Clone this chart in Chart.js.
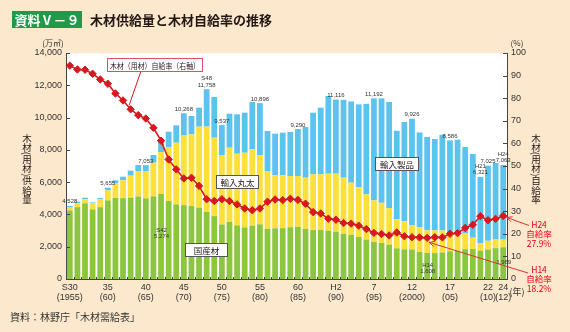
<!DOCTYPE html>
<html>
<head>
<meta charset="utf-8">
<script src="https://cdn.jsdelivr.net/npm/chart.js@4"></script>
<style>
  html, body { margin: 0; padding: 0; background: #fce8cc; }
  canvas { display: block; }
</style>
</head>
<body>
<canvas id="woodChart" width="570" height="332"></canvas>
<script>
// 年（S30=1955 〜 H24=2012）
const years = [1955, 1956, 1957, 1958, 1959, 1960, 1961, 1962, 1963, 1964,
  1965, 1966, 1967, 1968, 1969, 1970, 1971, 1972, 1973, 1974,
  1975, 1976, 1977, 1978, 1979, 1980, 1981, 1982, 1983, 1984,
  1985, 1986, 1987, 1988, 1989, 1990, 1991, 1992, 1993, 1994,
  1995, 1996, 1997, 1998, 1999, 2000, 2001, 2002, 2003, 2004,
  2005, 2006, 2007, 2008, 2009, 2010, 2011, 2012];

// 万m3
const domestic = [4250, 4450, 4690, 4312, 4450, 4870, 5016, 5010, 5038, 5115,
  5000, 5120, 5274, 4830, 4620, 4575, 4520, 4420, 4160, 3895,
  3375, 3540, 3320, 3195, 3310, 3390, 3105, 3140, 3150, 3205,
  3235, 3105, 3030, 3045, 3000, 2930, 2800, 2740, 2600, 2440,
  2300, 2230, 2130, 1900, 1840, 1830, 1680, 1608, 1605, 1645,
  1717, 1752, 1848, 1859, 1757, 1827, 1911, 1969];
const importedLogs = [208, 236, 243, 374, 483, 621, 909, 1100, 1362, 1575,
  1690, 2086, 2592, 3345, 3824, 4344, 4440, 5015, 5280, 4859,
  4305, 4594, 4442, 4629, 4721, 4269, 3584, 3301, 3270, 3174,
  3144, 3171, 3452, 3437, 3523, 3593, 3476, 3226, 3097, 2803,
  2570, 2490, 2260, 1800, 1740, 1510, 1510, 1402, 1405, 1365,
  1183, 1148, 1002, 701, 473, 543, 529, 471];
const importedProducts = [70, 103, 103, 61, 83, 164, 185, 228, 309, 370,
  363, 475, 694, 950, 1074, 1349, 1136, 1177, 2318, 2519,
  1857, 2106, 2437, 2478, 2932, 3237, 2478, 2560, 2643, 2726,
  2911, 3138, 3820, 4130, 4812, 4593, 4824, 5034, 5122, 5607,
  6322, 6469, 6575, 5487, 6146, 6586, 5892, 5790, 5663, 5929,
  5686, 5730, 5327, 5184, 4091, 4655, 4746, 4623];
// 自給率 %
const selfRate = [94.4, 92.7, 92.6, 90.8, 88.3, 86.4, 82.1, 79.0, 75.1, 72.5,
  71.0, 66.9, 61.2, 52.9, 48.5, 44.5, 44.8, 41.2, 35.3, 34.5,
  35.3, 34.5, 33.0, 31.2, 30.4, 31.2, 34.2, 35.2, 34.9, 35.5,
  35.0, 33.3, 29.6, 29.0, 26.7, 26.2, 24.8, 24.5, 23.6, 22.1,
  20.4, 19.9, 19.3, 20.6, 18.9, 18.5, 18.4, 18.2, 18.5, 18.4,
  20.0, 20.3, 22.6, 24.0, 27.8, 26.0, 26.6, 27.9];

// x軸ラベル
const tickYears = [1955, 1960, 1965, 1970, 1975, 1980, 1985, 1990, 1995, 2000, 2005, 2010, 2012];
const tickEra = ['S30', '35', '40', '45', '50', '55', '60', 'H2', '7', '12', '17', '22', '24'];
const tickWestern = ['(1955)', '(60)', '(65)', '(70)', '(75)', '(80)', '(85)', '(90)', '(95)', '(2000)', '(05)', '(10)', '(12)'];

// 棒の上の合計値
const noteYears = [1955, 1960, 1965, 1970, 1973, 1975, 1980, 1985, 1990, 1995, 2000, 2005, 2009, 2010, 2012];
const noteText = ['4,528', '5,655', '7,053', '10,268', 'S48\n11,758', '9,537', '10,896', '9,290',
  '11,116', '11,192', '9,926', '8,586', 'H21\n6,321', '7,025', 'H24\n7,063'];
// 国産材の中の値
const innerYears = [1967, 2002, 2012];
const innerText = ['S42\n5,274', 'H14\n1,608', '1,969'];
const innerDy = [38, 13.7, 16.8];

const GREEN = '#8cc63f';
const YELLOW = '#ffe03a';
const BLUE = '#5cc3ee';
const RED = '#d7191f';
const PEACH = '#fce8cc';
const INK = '#231815';
const NUM = '"Liberation Sans", "Noto Sans CJK JP", sans-serif';
const JP = '"Noto Sans CJK JP", sans-serif';

Chart.defaults.font.family = NUM;
Chart.defaults.color = '#333';

function line(ctx, x1, y1, x2, y2) {
  ctx.beginPath(); ctx.moveTo(x1, y1); ctx.lineTo(x2, y2); ctx.stroke();
}

function arrow(ctx, x1, y1, x2, y2) {
  line(ctx, x1, y1, x2, y2);
  const ang = Math.atan2(y1 - y2, x1 - x2);
  const s = 6;
  ctx.beginPath();
  ctx.moveTo(x2 + s * Math.cos(ang - 0.45), y2 + s * Math.sin(ang - 0.45));
  ctx.lineTo(x2, y2);
  ctx.lineTo(x2 + s * Math.cos(ang + 0.45), y2 + s * Math.sin(ang + 0.45));
  ctx.stroke();
}

function box(ctx, cx, cy, w, h, text, border, size) {
  const l = Math.round(cx - w / 2) + 0.5, t = Math.round(cy - h / 2) + 0.5;
  ctx.fillStyle = '#fff';
  ctx.fillRect(l, t, w, h);
  ctx.strokeStyle = border;
  ctx.lineWidth = 1;
  ctx.strokeRect(l, t, w, h);
  ctx.fillStyle = INK;
  ctx.font = size + 'px ' + JP;
  ctx.textAlign = 'center';
  ctx.textBaseline = 'middle';
  ctx.fillText(text, l + w / 2, t + h / 2 + 0.5, w - 5);
}

// 縦書き（括弧は回転して描く）
function vText(ctx, str, x, y0, step, halfStep) {
  let y = y0;
  let prevHalf = false;
  ctx.textAlign = 'center';
  ctx.textBaseline = 'middle';
  [...str].forEach((ch, i) => {
    const half = ch === '(' || ch === ')';
    if (i > 0) y += (prevHalf || half) ? halfStep : step;
    if (half) {
      ctx.save();
      ctx.translate(x, y);
      ctx.rotate(Math.PI / 2);
      ctx.fillText(ch, 0, 0);
      ctx.restore();
    } else {
      ctx.fillText(ch, x, y);
    }
    prevHalf = half;
  });
}

const decor = {
  id: 'decor',
  beforeDraw(chart) {
    const { ctx, chartArea: a } = chart;
    ctx.save();
    ctx.fillStyle = PEACH;
    ctx.fillRect(0, 0, chart.width, chart.height);
    ctx.fillStyle = '#ffffff';
    ctx.fillRect(a.left, a.top, a.right - a.left, a.bottom - a.top);
    ctx.restore();
  },
  afterDraw(chart) {
    const { ctx, chartArea: a, scales: { x, y, y1 } } = chart;
    ctx.save();

    // 内向きの目盛り
    ctx.strokeStyle = '#444';
    ctx.lineWidth = 1;
    y.ticks.forEach(t => {
      const py = Math.round(y.getPixelForValue(t.value)) + 0.5;
      line(ctx, a.left, py, a.left + 4, py);
    });
    y1.ticks.forEach(t => {
      const py = Math.round(y1.getPixelForValue(t.value)) + 0.5;
      line(ctx, a.right - 4, py, a.right, py);
    });
    for (let i = 0; i < years.length - 1; i++) {
      const px = Math.round((x.getPixelForValue(i) + x.getPixelForValue(i + 1)) / 2) + 0.5;
      line(ctx, px, a.bottom - 2, px, a.bottom);
    }

    // タイトル
    ctx.fillStyle = '#1f9a48';
    ctx.fillRect(12, 11, 70, 17);
    ctx.fillStyle = '#fff';
    ctx.font = 'bold 13px ' + JP;
    ctx.textAlign = 'center';
    ctx.textBaseline = 'middle';
    ctx.fillText('資料Ⅴ－９', 47, 20);
    ctx.fillStyle = INK;
    ctx.textAlign = 'left';
    ctx.fillText('木材供給量と木材自給率の推移', 90, 20);

    // 単位など
    ctx.fillStyle = '#333';
    ctx.font = '8px ' + JP;
    ctx.textAlign = 'center';
    ctx.fillText('(万㎥)', 53, 43);
    ctx.fillText('(%)', 517, 43);
    ctx.font = '9px ' + JP;
    ctx.fillText('(年)', 517, 292);
    ctx.textAlign = 'left';
    ctx.font = '10px ' + JP;
    ctx.fillText('資料：林野庁「木材需給表」', 10, 317);

    // 軸タイトル
    ctx.fillStyle = INK;
    ctx.font = '9.5px ' + JP;
    vText(ctx, '木材(用材)供給量', 27, 138, 9.4, 6);
    vText(ctx, '木材(用材)自給率', 536, 138, 9.4, 6);

    // 合計値
    ctx.fillStyle = '#333';
    ctx.font = '6px ' + NUM;
    ctx.textAlign = 'center';
    ctx.textBaseline = 'alphabetic';
    noteYears.forEach((yr, k) => {
      const i = years.indexOf(yr);
      const total = domestic[i] + importedLogs[i] + importedProducts[i];
      const px = x.getPixelForValue(i);
      const top = y.getPixelForValue(total);
      noteText[k].split('\n').reverse().forEach((ln, j) => {
        ctx.fillText(ln, px, top - 2.5 - j * 6.5);
      });
    });
    innerYears.forEach((yr, k) => {
      const i = years.indexOf(yr);
      const px = x.getPixelForValue(i);
      const top = y.getPixelForValue(domestic[i]);
      innerText[k].split('\n').forEach((ln, j) => {
        ctx.fillText(ln, px + 0.5, top + innerDy[k] + j * 6.3);
      });
    });

    // 凡例ボックス
    const p8x = x.getPixelForValue(8), p8y = y1.getPixelForValue(selfRate[8]);
    ctx.strokeStyle = RED;
    ctx.lineWidth = 1;
    line(ctx, 141, 71, p8x - 1.5, p8y - 4);
    box(ctx, 154.5, 64.5, 95, 13, '木材（用材）自給率（右軸）', '#e0505a', 8);
    box(ctx, 237, 181.5, 42, 13, '輸入丸太', '#555', 8.5);
    box(ctx, 396.5, 163.5, 43, 13, '輸入製品', '#555', 8.5);
    box(ctx, 206, 249.5, 42, 13, '国産材', '#555', 8.5);

    // 右側の注記
    const last = years.length - 1;
    const pLx = x.getPixelForValue(last), pLy = y1.getPixelForValue(selfRate[last]);
    const iMin = years.indexOf(2002);
    const pMx = x.getPixelForValue(iMin), pMy = y1.getPixelForValue(selfRate[iMin]);
    ctx.strokeStyle = '#e0303a';
    ctx.lineWidth = 1;
    arrow(ctx, 529, 225.5, pLx + 3.5, pLy + 1.5);
    arrow(ctx, 528, 273, pMx + 2, pMy + 4.5);
    ctx.fillStyle = '#e60012';
    ctx.font = '8.5px ' + JP;
    ctx.textAlign = 'center';
    ctx.textBaseline = 'middle';
    ctx.fillText('H24', 539, 225);
    ctx.fillText('自給率', 539, 234);
    ctx.fillText('27.9%', 539, 243.5);
    ctx.fillText('H14', 539, 269.5);
    ctx.fillText('自給率', 539, 279);
    ctx.fillText('18.2%', 539, 288.5);

    ctx.restore();
  }
};

const ctx = document.getElementById('woodChart').getContext('2d');
const woodChart = new Chart(ctx, {
  type: 'bar',
  data: {
    labels: years,
    datasets: [{
      label: '木材（用材）自給率',
      type: 'line',
      data: selfRate,
      yAxisID: 'y1',
      order: 0,
      borderColor: RED,
      borderWidth: 1.6,
      pointStyle: 'rectRot',
      pointRadius: 3.7,
      pointBackgroundColor: RED,
      pointBorderColor: RED,
      pointBorderWidth: 1,
      tension: 0
    }, {
      label: '国産材',
      data: domestic,
      backgroundColor: GREEN,
      yAxisID: 'y',
      order: 1
    }, {
      label: '輸入丸太',
      data: importedLogs,
      backgroundColor: YELLOW,
      yAxisID: 'y',
      order: 1
    }, {
      label: '輸入製品',
      data: importedProducts,
      backgroundColor: BLUE,
      yAxisID: 'y',
      order: 1
    }]
  },
  options: {
    responsive: false,
    animation: false,
    devicePixelRatio: 1,
    layout: { padding: { top: 53, left: 0, right: 0, bottom: 0 } },
    datasets: { bar: { barPercentage: 0.76, categoryPercentage: 1 } },
    plugins: { legend: { display: false }, tooltip: { enabled: false } },
    scales: {
      x: {
        stacked: true,
        offset: true,
        grid: { display: false, drawTicks: false },
        border: { color: '#444' },
        ticks: {
          autoSkip: false,
          maxRotation: 0,
          minRotation: 0,
          padding: 4,
          color: '#333',
          font: { size: 9, lineHeight: 1.1 },
          callback: (v, i) => {
            const k = tickYears.indexOf(years[i]);
            return k < 0 ? '' : [tickEra[k], tickWestern[k]];
          }
        },
        afterFit: s => { s.height = 53; }
      },
      y: {
        stacked: true,
        min: 0,
        max: 14000,
        grid: { display: false, drawTicks: false },
        border: { color: '#444' },
        ticks: {
          stepSize: 2000,
          padding: 4,
          color: '#333',
          font: { size: 9 },
          callback: v => v.toLocaleString('en-US')
        },
        afterFit: s => { s.width = 66; }
      },
      y1: {
        position: 'right',
        min: 0,
        max: 100,
        grid: { display: false, drawTicks: false },
        border: { color: '#444' },
        ticks: {
          stepSize: 10,
          padding: 4,
          color: '#333',
          font: { size: 9 }
        },
        afterFit: s => { s.width = 63; }
      }
    }
  },
  plugins: [decor]
});
</script>
</body>
</html>
